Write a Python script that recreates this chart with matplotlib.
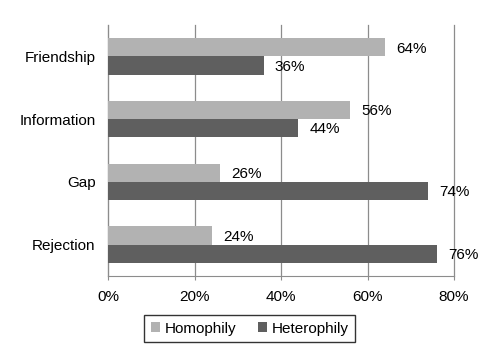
import numpy as np
import matplotlib.pyplot as plt

plt.rcParams['font.family'] = ['Liberation Sans', 'DejaVu Sans']

categories = ['Friendship', 'Information', 'Gap', 'Rejection']
homophily = [64, 56, 26, 24]
heterophily = [36, 44, 74, 76]
x_ticks = [0, 20, 40, 60, 80]

light = '#b2b2b2'
dark = '#5f5f5f'

fig = plt.figure(figsize=(4.84, 3.52), dpi=100)
ax = fig.add_axes([108 / 484, 1 - 276 / 352, 346 / 484, 251 / 352])

y = np.arange(len(categories))[::-1].astype(float)
h = 0.29
ax.barh(y + h / 2, homophily, height=h, color=light, label='Homophily', zorder=3)
ax.barh(y - h / 2, heterophily, height=h, color=dark, label='Heterophily', zorder=3)

for yi, v in zip(y, homophily):
    ax.text(v + 2.6, yi + h / 2 - 0.02, f'{v}%', va='center', ha='left', fontsize=11)
for yi, v in zip(y, heterophily):
    ax.text(v + 2.6, yi - h / 2 - 0.02, f'{v}%', va='center', ha='left', fontsize=11)

ax.set_xlim(0, 80)
ax.set_ylim(-0.5, 3.5)
ax.set_xticks(x_ticks)
ax.set_xticklabels([f'{t}%' for t in x_ticks], fontsize=11)
ax.set_yticks(y)
ax.set_yticklabels(categories, fontsize=11)
ax.grid(axis='x', color='#8c8c8c', linewidth=0.9, zorder=0)
for gl in ax.get_xgridlines():
    gl.set_clip_on(False)
for s in ['top', 'right']:
    ax.spines[s].set_visible(False)
ax.spines['left'].set_color('#8c8c8c')
ax.spines['bottom'].set_color('#8c8c8c')
ax.tick_params(axis='y', length=0, pad=9)
ax.tick_params(axis='x', length=3, color='#8c8c8c', pad=7)

leg = fig.legend(loc='center', bbox_to_anchor=(249.5 / 484, 1 - 328.5 / 352), ncol=2,
                 frameon=True, fancybox=False, edgecolor='black', fontsize=11,
                 handlelength=0.6, handleheight=0.6, handletextpad=0.3,
                 columnspacing=1.4, borderpad=0.45)
leg.get_frame().set_linewidth(1.0)

fig.savefig('out.png', dpi=100)
